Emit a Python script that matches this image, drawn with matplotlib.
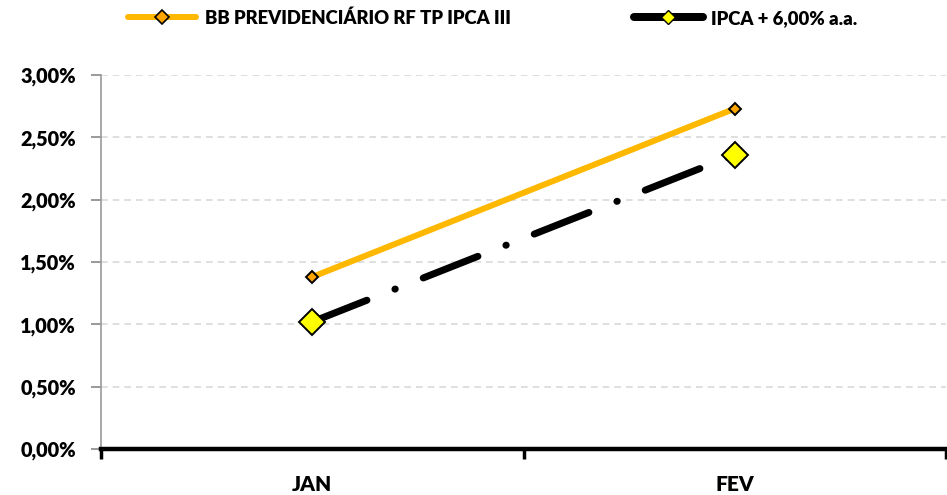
import matplotlib
matplotlib.use("Agg")
import matplotlib.pyplot as plt
from matplotlib.lines import Line2D
from matplotlib.ticker import FuncFormatter, MultipleLocator

plt.rcParams['font.family'] = ['Lato', 'DejaVu Sans']
plt.rcParams['font.weight'] = 'bold'

categories = ["JAN", "FEV"]
bb_fund = [1.38, 2.73]
ipca_bench = [1.02, 2.36]
series_names = ["BB PREVIDENCIÁRIO RF TP IPCA III", "IPCA + 6,00% a.a."]

fig = plt.figure(figsize=(9.47, 4.95), dpi=100)
ax = fig.add_axes([101/947, 1 - 449/495, 845/947, (449 - 75)/495])

x = list(range(len(categories)))
px = 0.72  # points per pixel

ax.plot(x, bb_fund, color='#FFB800', lw=6*px, solid_capstyle='round', zorder=3,
        marker='D', markersize=9*px, markerfacecolor='#FFA500',
        markeredgecolor='black', markeredgewidth=1.4, label=series_names[0])
ln, = ax.plot(x, ipca_bench, color='black', lw=7*px, zorder=2,
              dash_capstyle='round', label=series_names[1])
ln.set_dashes([8.4, 4.3, 0.05, 4.3])
ax.plot(x, ipca_bench, ls='none', marker='D', markersize=19*px,
        markerfacecolor='#FFFF00', markeredgecolor='black',
        markeredgewidth=1.4, zorder=4)

ax.set_xlim(-0.5, 1.5)
ax.set_ylim(0, 3.0)
ax.yaxis.set_major_locator(MultipleLocator(0.5))
ax.yaxis.set_major_formatter(FuncFormatter(lambda v, p: f"{v:.2f}%".replace('.', ',')))
ax.grid(axis='y', color='#D9D9D9', ls=(0, (4, 3)), lw=1.2, zorder=0)

ax.set_xticks(x)
ax.set_xticklabels(categories)
ax.tick_params(axis='x', length=0, pad=19, labelsize=15)
ax.set_xticks([-0.5, 0.5, 1.5], minor=True)
ax.tick_params(axis='x', which='minor', length=7, width=2.5, color='black', direction='out')
ax.tick_params(axis='y', length=7, width=1.2, color='#888888', labelsize=14.3, pad=11)

for s in ['top', 'right']:
    ax.spines[s].set_visible(False)
ax.spines['left'].set_color('#999999')
ax.spines['left'].set_linewidth(1.2)
ax.spines['bottom'].set_color('black')
ax.spines['bottom'].set_linewidth(3.2)
ax.spines['bottom'].set_zorder(5)

for lab in ax.get_xticklabels() + ax.get_yticklabels():
    lab.set_fontweight('heavy')

h1 = Line2D([], [], color='#FFB800', lw=6*px, marker='D', markersize=7,
            markerfacecolor='#FFA500', markeredgecolor='black', markeredgewidth=1.2,
            solid_capstyle='round')
h2 = Line2D([], [], color='black', lw=8*px, marker='D', markersize=7,
            markerfacecolor='#FFFF00', markeredgecolor='black', markeredgewidth=1.0,
            solid_capstyle='round')
leg = fig.legend([h1, h2], series_names, loc='center left', ncol=2,
                 bbox_to_anchor=(128/947, 1 - 18/495), frameon=False,
                 borderpad=0, borderaxespad=0,
                 handlelength=3.7, columnspacing=6.7, handletextpad=0.45,
                 prop={'weight': 'heavy', 'size': 13.3})

fig.savefig("out.png", dpi=100)
